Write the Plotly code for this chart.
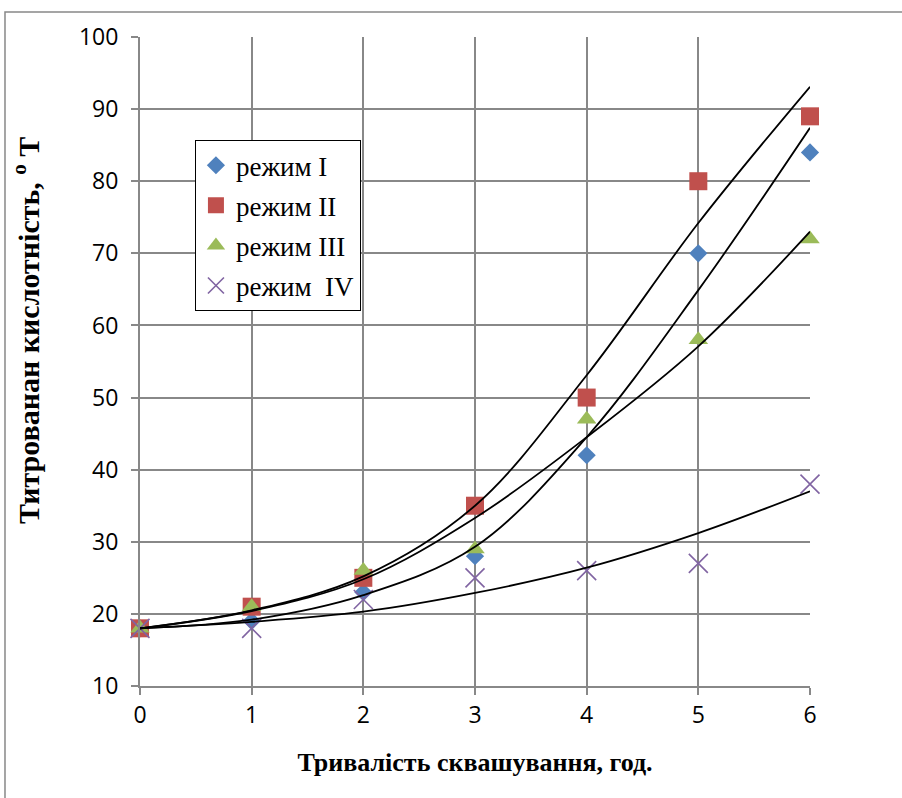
import plotly.graph_objects as go

hours = [0, 1, 2, 3, 4, 5, 6]
mode_1 = [18, 19, 23, 28, 42, 70, 84]
mode_2 = [18, 21, 25, 35, 50, 80, 89]
mode_3 = [18, 21, 26, 29, 47, 58, 72]
mode_4 = [18, 18, 22, 25, 26, 27, 38]
# trendline values at each hour
trend_1 = [18, 19.2, 22.6, 29.3, 44.5, 64.9, 87.4]
trend_2 = [18, 20.5, 25.2, 35.0, 53.1, 74.2, 93.1]
trend_3 = [18, 20.4, 24.8, 33.3, 44.5, 57.1, 73.0]
trend_4 = [18, 18.9, 20.3, 22.9, 26.4, 31.2, 37.0]
names = ["режим I", "режим II", "режим III", "режим\u00a0\u00a0IV"]
colors = ["#4F81BD", "#C0504D", "#9BBB59", "#8064A2"]
symbols = ["diamond", "square", "triangle-up", "x-thin"]
sizes = [14, 18, 17, 19]
x_ticks = [0, 1, 2, 3, 4, 5, 6]
y_ticks = [10, 20, 30, 40, 50, 60, 70, 80, 90, 100]
x_title = "Тривалість сквашування, год."
y_title = "Титрованан кислотність, <sup>о</sup> Т"

series = [mode_1, mode_2, mode_3, mode_4]
trends = [trend_1, trend_2, trend_3, trend_4]
fig = go.Figure()
for i, (s, n, c, sym, sz) in enumerate(zip(series, names, colors, symbols, sizes)):
    marker = dict(symbol=sym, size=sz, color=c)
    if sym == "x-thin":
        marker["line"] = dict(color=c, width=1.6)
    fig.add_trace(go.Scatter(x=hours, y=s, mode="markers", name=n, marker=marker,
                             legendgroup=f"g{i}", cliponaxis=False))

for t in trends:
    fig.add_trace(go.Scatter(x=hours, y=t, mode="lines",
                             line=dict(color="black", width=1.8, shape="spline", smoothing=1),
                             showlegend=False, hoverinfo="skip"))

grid = "#888888"
fig.update_layout(
    width=902, height=798,
    margin=dict(l=140, r=92, t=37, b=112),
    paper_bgcolor="white", plot_bgcolor="white",
    font=dict(family="Open Sans", size=23, color="black"),
    showlegend=True,
    legend=dict(x=0.082, y=0.841, xanchor="left", yanchor="top",
                bordercolor="black", borderwidth=1, bgcolor="white",
                font=dict(family="Liberation Serif", size=27),
                itemwidth=30, tracegroupgap=2),
    xaxis=dict(range=[0, 6], tickvals=x_ticks, showgrid=True, gridcolor=grid, gridwidth=2,
               showline=True, linecolor=grid, linewidth=2, ticks="outside", ticklen=7,
               tickcolor=grid, tickwidth=2, zeroline=False,
               title=dict(text=x_title, standoff=24,
                          font=dict(family="Liberation Serif", size=26, color="black", weight="bold"))),
    yaxis=dict(range=[10, 100], tickvals=y_ticks, showgrid=True, gridcolor=grid, gridwidth=2,
               showline=True, linecolor=grid, linewidth=2, ticks="outside", ticklen=7,
               tickcolor=grid, tickwidth=2, zeroline=False, ticklabelstandoff=8),
)
fig.add_annotation(text=y_title, xref="paper", yref="paper", x=-0.170, y=0.547,
                   textangle=-90, showarrow=False, xanchor="center", yanchor="middle",
                   font=dict(family="Liberation Serif", size=30, color="black", weight="bold"))
fig.add_shape(type="rect", xref="paper", yref="paper", x0=-0.2015, x1=1.3, y0=-0.3, y1=1.0385,
              line=dict(color="#888888", width=1.5), fillcolor="rgba(0,0,0,0)", layer="below")
fig.write_html("out.html", config={"displayModeBar": False},
               post_script="document.body.style.margin='0';document.body.style.overflow='hidden';")
